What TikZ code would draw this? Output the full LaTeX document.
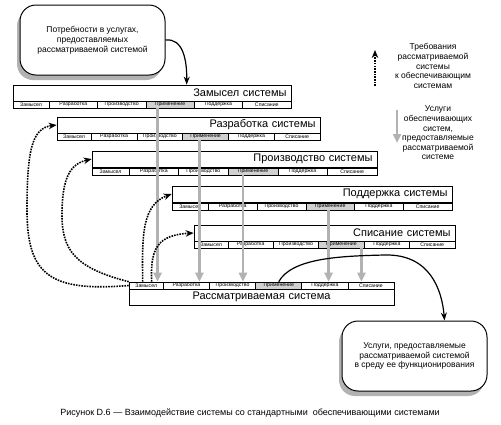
\documentclass[tikz,border=0pt]{standalone}
\usepackage{fontspec}
\setmainfont{Liberation Sans}
\usetikzlibrary{arrows, arrows.meta, shadows}
\tikzstyle{titlebox} = [draw=black, line width=0.7pt, fill=white, minimum height=16pt, inner sep=0pt, align=right, font=\fontsize{11}{12}\selectfont]
\tikzstyle{tabcell} = [draw=black, line width=0.6pt, fill=white, minimum height=7pt, inner sep=0pt, font=\fontsize{5.2}{5.5}\selectfont]
\tikzstyle{tab4} = [fill=black!18]
\tikzstyle{bubble} = [draw=black, line width=1pt, fill=white, rounded corners=16pt, minimum width=145pt, minimum height=70pt, align=center, font=\fontsize{8.5}{9.8}\selectfont, drop shadow={shadow xshift=-3pt, shadow yshift=-5pt, fill=black!30, opacity=1}]
\tikzstyle{legend} = [align=center, inner sep=0pt, font=\fontsize{8.5}{9.6}\selectfont]
\tikzstyle{service} = [line width=2.5pt, draw=black!30, -{Triangle[length=9pt, width=8pt]}]
\tikzstyle{demand} = [line width=1.6pt, dash pattern=on 1.6pt off 1.1pt, -{Stealth[length=8pt, width=6.5pt]}]
\tikzstyle{flow} = [line width=1.2pt, -{Stealth[length=8pt, width=6pt]}]

% row of stage cells: name, left x, top y, width
\newcommand{\tabrow}[4]{%
  \foreach \lbl/\xa/\xb [count=\i] in {Замысел/0/0.13, Разработка/0.13/0.304, Производство/0.304/0.478, Применение/0.478/0.652, Поддержка/0.652/0.826, Списание/0.826/1}
    \node at ({#2+(\xa+\xb)/2*#4}, {#3+3.5}) (#1-\i) [tabcell, tab\i/.try, minimum width={(\xb-\xa)*#4}] {\lbl};
}
% system box: name, left x, top y, width, y of cells, title
\newcommand{\sysbox}[6]{%
  \node at ({#2+#4/2}, {#3+8}) (#1) [titlebox, minimum width=#4, text width={#4-9}] {#6};
  \tabrow{#1}{#2}{#5}{#4}
}

\begin{document}
\begin{tikzpicture}[x=1pt, y=-1pt]
\useasboundingbox (0,0) rectangle (501,424);

\node at (92.5, 40) (topbub) [bubble] {Потребности в услугах,\\предоставляемых\\рассматриваемой системой};
\node at (414.5, 356) (botbub) [bubble] {Услуги, предоставляемые\\рассматриваемой системой\\в среду ее функционирования};

\sysbox{zam}{13}{85}{278}{101}{Замысел системы}
\sysbox{razr}{57}{117}{263}{133}{Разработка системы}
\sysbox{proizv}{92}{151}{285}{168}{Производство системы}
\sysbox{podd}{172}{186}{280}{203}{Поддержка системы}
\sysbox{spis}{194}{225}{261}{241}{Списание системы}
\node at (261.5, 297) (rassm) [titlebox, minimum width=265, text width=257, align=center] {Рассматриваемая система};
\tabrow{rassm}{129}{282}{265}

% services to the system of interest
\draw[service] ([xshift=12pt]zam-4.south west) -- ([xshift=12pt]zam-4.south west |- rassm-1.north);
\draw[service] ([xshift=17pt]razr-4.south west) -- ([xshift=17pt]razr-4.south west |- rassm-2.north);
\draw[service] ([xshift=15pt]proizv-4.south west) -- ([xshift=15pt]proizv-4.south west |- rassm-3.north);
\draw[service] ([xshift=23pt]podd-4.south west) -- ([xshift=23pt]podd-4.south west |- rassm-5.north);
\draw[service] ([xshift=-3pt]spis-4.south east) -- ([xshift=-3pt]spis-4.south east |- rassm-6.north);

% requirements to enabling systems
\draw[demand] (rassm-1.west) .. controls (50,292) and (27,275) .. (27,210) .. controls (27,150) and (32,128) .. (razr.west);
\draw[demand] (rassm-1.north west) .. controls (75,268) and (62,250) .. (62,215) .. controls (62,178) and (70,164) .. (proizv.west);
\draw[demand] ([xshift=14pt]rassm-1.north west) .. controls (142,235) and (142,205) .. (podd.west);
\draw[demand] ([xshift=23pt]rassm-1.north west) .. controls (150,248) and (158,235) .. (spis.west);

\draw[flow] (topbub.east) .. controls (183,38) and (187,60) .. ([xshift=174pt]zam.north west);
\draw[flow] (rassm-4.north) .. controls (292,258) and (340,256) .. (385,255) .. controls (430,254) and (442,290) .. ([xshift=30pt]botbub.north);

% legend
\coordinate (reqbot) at (375,86);
\coordinate (reqtop) at (375,50);
\draw[demand] (reqbot) -- (reqtop);
\node at (433, 66) (reqtext) [legend] {Требования\\рассматриваемой\\системы\\к обеспечивающим\\системам};
\coordinate (srvtop) at (397,110);
\coordinate (srvbot) at (397,143);
\draw[service] (srvtop) -- (srvbot);
\node at (438, 133) (srvtext) [legend] {Услуги\\обеспечивающих\\систем,\\предоставляемые\\рассматриваемой\\системе};

\node at (250, 413) (caption) [font=\fontsize{9}{10}\selectfont] {Рисунок D.6 — Взаимодействие системы со стандартными\ \ обеспечивающими системами};

\end{tikzpicture}
\end{document}
